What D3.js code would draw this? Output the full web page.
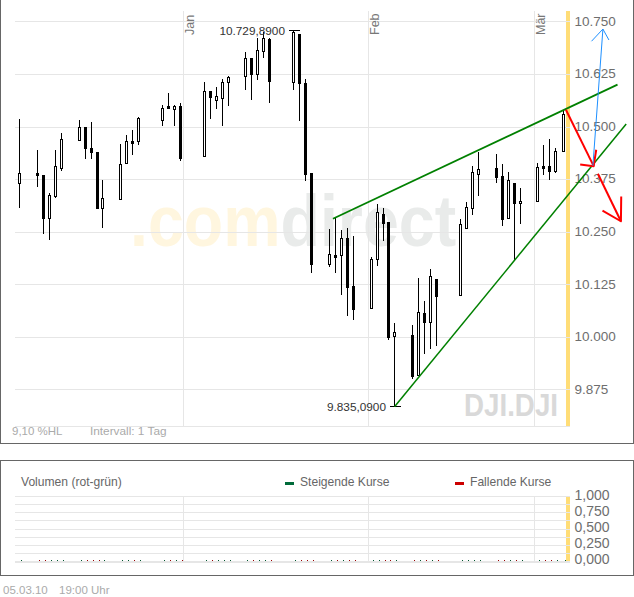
<!DOCTYPE html>
<html>
<head>
<meta charset="utf-8">
<script src="https://cdnjs.cloudflare.com/ajax/libs/d3/7.8.5/d3.min.js"></script>
<style>
  body { margin: 0; background: #fff; }
  text { font-family: "Liberation Sans", Arial, sans-serif; }
</style>
</head>
<body>
<div id="chart"></div>
<script>
// daily candles, DJI Dec 09 - Mar 10
const dates = ["2009-12-04",
  "2009-12-07","2009-12-08","2009-12-09","2009-12-10","2009-12-11",
  "2009-12-14","2009-12-15","2009-12-16","2009-12-17","2009-12-18",
  "2009-12-21","2009-12-22","2009-12-23","2009-12-24",
  "2009-12-28","2009-12-29","2009-12-30","2009-12-31",
  "2010-01-04","2010-01-05","2010-01-06","2010-01-07","2010-01-08",
  "2010-01-11","2010-01-12","2010-01-13","2010-01-14","2010-01-15",
  "2010-01-19","2010-01-20","2010-01-21","2010-01-22",
  "2010-01-25","2010-01-26","2010-01-27","2010-01-28","2010-01-29",
  "2010-02-01","2010-02-02","2010-02-03","2010-02-04","2010-02-05",
  "2010-02-08","2010-02-09","2010-02-10","2010-02-11","2010-02-12",
  "2010-02-16","2010-02-17","2010-02-18","2010-02-19",
  "2010-02-22","2010-02-23","2010-02-24","2010-02-25","2010-02-26",
  "2010-03-01","2010-03-02","2010-03-03","2010-03-04","2010-03-05"];
const opens = [10366,
  10389,10385,10282,10335,10402,
  10468,10499,10448,10439,10307,
  10328,10414,10465,10466,
  10516,10548,10542,10549,
  10429,10584,10564,10569,10605,
  10619,10662,10626,10679,10708,
  10607,10720,10603,10389,
  10174,10194,10194,10236,10122,
  10068,10184,10292,10272,10002,
  10004,9909,10056,10036,10137,
  10100,10259,10307,10386,
  10401,10382,10283,10366,10319,
  10323,10406,10406,10395,10443];
const highs = [10518,
  10444,10385,10341,10444,10484,
  10515,10499,10511,10439,10373,
  10458,10480,10492,10522,
  10551,10580,10551,10555,
  10606,10584,10593,10612,10620,
  10677,10662,10710,10724,10710,
  10729.89,10720,10614,10389,
  10256,10282,10254,10259,10240,
  10190,10316,10306,10272,10033,
  10028,10140,10085,10161,10137,
  10280,10320,10406,10439,
  10434,10411,10393,10366,10354,
  10413,10456,10470,10450,10540];
const lows = [10309,
  10359,10247,10233,10333,10396,
  10468,10426,10426,10307,10262,
  10328,10414,10434,10458,
  10503,10543,10503,10420,
  10429,10521,10543,10503,10551,
  10589,10565,10613,10666,10558,
  10589,10515,10373,10155,
  10168,10154,10102,10052,10043,
  10068,10171,10230,9995,9835.09,
  9903,9909,9961,9973,9980,
  10100,10259,10293,10337,
  10367,10266,10283,10182,10271,
  10323,10387,10375,10391,10443];
const closes = [10389,
  10385,10283,10337,10406,10470,
  10500,10449,10440,10307,10329,
  10412,10465,10461,10520,
  10545,10543,10549,10426,
  10584,10571,10572,10605,10618,
  10662,10625,10681,10710,10609,
  10724,10603,10388,10172,
  10196,10190,10236,10119,10067,
  10184,10296,10270,9999,10011,
  9907,10058,10036,10144,10097,
  10268,10308,10391,10400,
  10381,10281,10374,10319,10324,
  10404,10401,10395,10443,10529];
// volume pane shows nothing but specks
const volumes = [0.012,
  0.012,0.012,0.012,0.012,0.012,
  0.012,0.012,0.012,0.012,0.012,
  0.012,0.012,0.012,0.012,
  0.012,0.012,0.012,0.012,
  0.012,0.012,0.012,0.012,0.012,
  0.012,0.012,0.012,0.012,0.012,
  0.012,0.012,0.012,0.012,
  0.012,0.012,0.012,0.012,0.012,
  0.012,0.012,0.012,0.012,0.012,
  0.012,0.012,0.012,0.012,0.012,
  0.012,0.012,0.012,0.012,
  0.012,0.012,0.012,0.012,0.012,
  0.012,0.012,0.012,0.012,0.012];

const priceTicks = [10750,10625,10500,10375,10250,10125,10000,9875];
const volumeGrid = [0,0.125,0.25,0.375,0.5,0.625,0.75,0.875,1];
const volumeTicks = [0,0.25,0.5,0.75,1];
const monthNames = ["Jan","Feb","Mär"];
const monthDates = ["2010-01-01","2010-02-01","2010-03-01"];

// drawn on top of the chart: [days after 05.03.10, price]
const upperTrend = [[-38.43,10282],[9,10601]];
const lowerTrend = [[-28,9835.09],[10.45,10507]];
const redArrow1 = [[0.4,10541],[5.03,10407]];
const redHead1 = [[2.78,10411],[5.03,10407],[5.45,10446]];
const redArrow2 = [[5.73,10389],[9.57,10276]];
const redHead2 = [[6.5,10301],[9.57,10276],[9.62,10335]];
const blueArrow = [[4.9,10408],[6.57,10733]];
const blueHead = [[4.67,10704],[6.57,10733],[7.57,10707]];

const w = 634, h = 597;
const parseDay = d3.utcParse("%Y-%m-%d");
const de = d3.formatLocale({decimal: ",", thousands: ".", grouping: [3], currency: ["", "€"]});

// the source rounds its day width, so a day is 6px with a 5px step every few weeks
const x = d3.scaleUtc()
  .domain(["2009-12-04","2009-12-17","2009-12-18","2010-01-08","2010-01-11","2010-02-03","2010-02-04",
           "2010-02-26","2010-03-01","2010-03-04","2010-03-05","2010-03-20"].map(parseDay))
  .range([19.5,97.5,102.5,228.5,245.5,383.5,388.5,520.5,537.5,555.5,563.5,653.5]);
const y = d3.scaleLinear().domain([10750,9875]).range([21.9,389.9]);
const yVol = d3.scaleLinear().domain([0,1]).range([561.4,496.6]);

const lastDay = +parseDay("2010-03-05");
const xOfDays = d => x(new Date(lastDay + d * 864e5));
const px = v => Math.floor(v) + 0.5;
const cx = d => Math.round(x(d) - 0.5) + 0.5;

const candles = dates.map((d, i) => ({
  date: parseDay(d), open: opens[i], high: highs[i], low: lows[i], close: closes[i], vol: volumes[i]
}));

const svg = d3.select("#chart").append("svg")
  .attr("width", w).attr("height", h)
  .style("display", "block");

// panel frames
const frames = [[0.5,-5,633,448.5],[0.5,460.5,633,114.5]];
svg.selectAll("rect.frame").data(frames).enter().append("rect")
  .attr("class", "frame")
  .attr("x", d => d[0]).attr("y", d => d[1]).attr("width", d => d[2]).attr("height", d => d[3])
  .attr("fill", "none").attr("stroke", "#666").attr("shape-rendering", "crispEdges");

// watermark, one text so the two colours sit flush
const mark = svg.append("text")
  .attr("transform", "translate(130,246) scale(1,1.12)")
  .attr("font-size", 64.5).attr("font-weight", "bold");
mark.append("tspan").text(".com").attr("fill", "#fff6df");
mark.append("tspan").text("direct").attr("fill", "#e9ebea");
svg.append("text").text("DJI.DJI").attr("x", 464).attr("y", 416)
  .attr("font-size", 32).attr("font-weight", "bold").attr("fill", "#d9d9d9")
  .attr("textLength", 94).attr("lengthAdjust", "spacingAndGlyphs");

// yellow marker for the current day, gridlines run over it
const marker = svg.append("g").attr("fill", "#ffdd77");
marker.append("rect").attr("x", 566).attr("y", 11).attr("width", 4).attr("height", 415);
marker.append("rect").attr("x", 566).attr("y", 497).attr("width", 4).attr("height", 64);

const grid = svg.append("g").attr("stroke", "#e6e6e6").attr("shape-rendering", "crispEdges");
priceTicks.forEach(t => {
  grid.append("line").attr("x1", 15).attr("x2", 570).attr("y1", px(y(t))).attr("y2", px(y(t)));
});
grid.append("line").attr("x1", 15).attr("x2", 570).attr("y1", 426.5).attr("y2", 426.5);
volumeGrid.forEach(t => {
  grid.append("line").attr("x1", 15).attr("x2", 570).attr("y1", px(yVol(t))).attr("y2", px(yVol(t)));
});
grid.append("line").attr("x1", 15).attr("x2", 570).attr("y1", 562.5).attr("y2", 562.5);
monthDates.forEach(m => {
  const gx = cx(parseDay(m)) - 3;
  grid.append("line").attr("x1", gx).attr("x2", gx).attr("y1", 11).attr("y2", 426);
  grid.append("line").attr("x1", gx).attr("x2", gx).attr("y1", 496).attr("y2", 561);
});

// month labels
monthDates.forEach((m, i) => {
  const gx = cx(parseDay(m)) - 3;
  svg.append("text").text(monthNames[i])
    .attr("transform", `translate(${gx + 10},35) rotate(-90)`)
    .attr("font-size", 12.5).attr("fill", "#777");
});

// axes
const priceAxis = d3.axisRight(y).tickValues(priceTicks).tickSize(0).tickPadding(0)
  .tickFormat(de.format(",.0f"));
const gPrice = svg.append("g").attr("transform", "translate(574.5,-1)").call(priceAxis);
const volAxis = d3.axisRight(yVol).tickValues(volumeTicks).tickSize(0).tickPadding(0)
  .tickFormat(de.format(",.3f"));
const gVol = svg.append("g").attr("transform", "translate(574.5,-2)").call(volAxis);
[gPrice, gVol].forEach(g => {
  g.select(".domain").remove();
  g.selectAll("text").attr("fill", "#6e6e6e").style("font-family", '"Liberation Sans", Arial, sans-serif');
});
gPrice.selectAll("text").style("font-size", "13.5px");
gVol.selectAll("text").style("font-size", "14px");

// candles
const gCandle = svg.append("g").attr("shape-rendering", "crispEdges");
gCandle.selectAll("line").data(candles).enter().append("line")
  .attr("x1", d => cx(d.date)).attr("x2", d => cx(d.date))
  .attr("y1", d => Math.floor(y(d.high))).attr("y2", d => Math.floor(y(d.low)) + 1)
  .attr("stroke", "#000");
gCandle.selectAll("rect").data(candles).enter().append("rect")
  .attr("x", d => cx(d.date) - 1).attr("width", 2)
  .attr("y", d => px(y(Math.max(d.open, d.close))))
  .attr("height", d => Math.floor(y(Math.min(d.open, d.close))) - Math.floor(y(Math.max(d.open, d.close))))
  .attr("fill", d => d.close >= d.open ? "#fff" : "#000")
  .attr("stroke", "#000");

// volume specks
svg.append("g").attr("shape-rendering", "crispEdges")
  .selectAll("rect").data(candles).enter().append("rect")
  .attr("x", d => cx(d.date) + 1.5).attr("width", 1)
  .attr("y", d => Math.floor(yVol(d.vol))).attr("height", 1)
  .attr("fill", d => d.close >= d.open ? "#00552e" : "#990000");

// high / low labels
const hiLo = [
  {value: d3.max(highs), date: dates[highs.indexOf(d3.max(highs))]},
  {value: d3.min(lows), date: dates[lows.indexOf(d3.min(lows))]}
];
hiLo.forEach(d => {
  const c = cx(parseDay(d.date)), yy = px(y(d.value));
  svg.append("line").attr("x1", c - 5).attr("x2", c + 6).attr("y1", yy).attr("y2", yy)
    .attr("stroke", "#000").attr("shape-rendering", "crispEdges");
  svg.append("text").text(de.format(",.4f")(d.value))
    .attr("x", c - 8.5).attr("y", yy + 4).attr("text-anchor", "end")
    .attr("font-size", 11.8).attr("fill", "#333");
});

// trend lines and arrows
const line = d3.line().x(d => xOfDays(d[0])).y(d => y(d[1]));
const drawing = svg.append("g").attr("fill", "none").attr("stroke-linejoin", "round");
drawing.append("path").attr("d", line(upperTrend)).attr("stroke", "#008000").attr("stroke-width", 1.8);
drawing.append("path").attr("d", line(lowerTrend)).attr("stroke", "#008000").attr("stroke-width", 1.5);
[redArrow1, redHead1, redArrow2, redHead2].forEach(p => {
  drawing.append("path").attr("d", line(p)).attr("stroke", "#ff0000").attr("stroke-width", 2);
});
[blueArrow, blueHead].forEach(p => {
  drawing.append("path").attr("d", line(p)).attr("stroke", "#1e90ff").attr("stroke-width", 1);
});

// small captions
const captions = [
  ["9,10 %HL", 12, 435, "#aaa", 11.5],
  ["Intervall: 1 Tag", 90, 435, "#aaa", 11.8],
  ["Volumen (rot-grün)", 21, 486, "#666", 12.1],
  ["Steigende Kurse", 300, 486, "#666", 12.1],
  ["Fallende Kurse", 470, 486, "#666", 12.1],
  ["05.03.10", 3, 594, "#aaa", 11.5],
  ["19:00 Uhr", 59, 594, "#aaa", 11.5]
];
svg.selectAll("text.caption").data(captions).enter().append("text")
  .attr("class", "caption")
  .text(d => d[0]).attr("x", d => d[1]).attr("y", d => d[2]).attr("fill", d => d[3])
  .attr("font-size", d => d[4]);

// legend dashes
svg.append("rect").attr("x", 285).attr("y", 482).attr("width", 9).attr("height", 3).attr("fill", "#006b3a");
svg.append("rect").attr("x", 455).attr("y", 482).attr("width", 9).attr("height", 3).attr("fill", "#cc0000");
</script>
</body>
</html>
